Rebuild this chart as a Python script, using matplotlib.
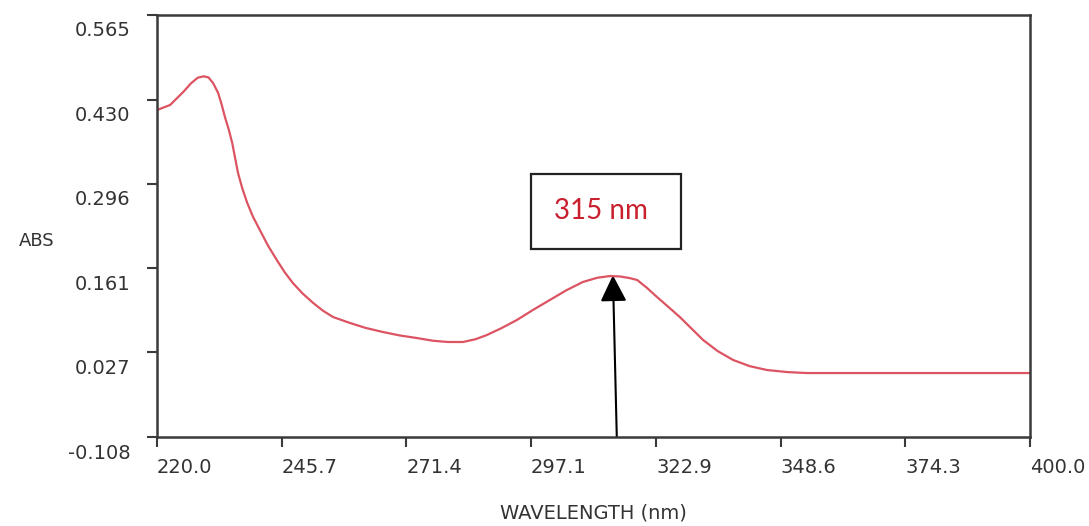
"""UV-Vis absorbance spectrum with the 315 nm band marked."""

import matplotlib

matplotlib.use("Agg")
import matplotlib.pyplot as plt
from matplotlib.patches import FancyArrowPatch, Rectangle
from matplotlib.transforms import ScaledTranslation

# spectrum
wavelength = [220.0, 222.7, 225.4, 227.0, 228.4, 229.6, 230.6, 231.6, 232.6,
              233.3, 234.0, 234.8, 235.5, 236.1, 236.7, 237.6, 238.6, 239.8,
              241.2, 242.9, 244.7, 246.3, 248.0, 250.0, 252.2, 254.2, 256.3,
              259.8, 263.0, 266.6, 270.0, 273.6, 276.9, 280.0, 283.1, 285.7,
              288.0, 291.0, 294.2, 297.6, 301.0, 304.4, 307.8, 310.8, 313.4,
              315.5, 317.4, 319.0, 321.0, 323.1, 325.5, 327.8, 330.2, 332.6,
              335.6, 338.8, 342.2, 345.8, 350.0, 354.0, 400.0]
absorbance = [0.4135, 0.4215, 0.4422, 0.4560, 0.4650, 0.4672, 0.4655, 0.4560,
              0.4406, 0.4230, 0.4023, 0.3820, 0.3609, 0.3370, 0.3130, 0.2880,
              0.2652, 0.2430, 0.2221, 0.1970, 0.1742, 0.1550, 0.1376, 0.1210,
              0.1057, 0.0935, 0.0833, 0.0738, 0.0660, 0.0594, 0.0540, 0.0498,
              0.0455, 0.0435, 0.0435, 0.0480, 0.0546, 0.0655, 0.0786, 0.0950,
              0.1105, 0.1260, 0.1392, 0.1460, 0.1487, 0.1480, 0.1455, 0.1424,
              0.1300, 0.1152, 0.0990, 0.0833, 0.0650, 0.0467, 0.0290, 0.0148,
              0.0050, -0.0012, -0.0045, -0.0060, -0.0060]

x_ticks = [220.0, 245.7, 271.4, 297.1, 322.9, 348.6, 374.3, 400.0]
y_ticks = [-0.108, 0.027, 0.161, 0.296, 0.430, 0.565]

peak_label = "315 nm"
peak_wl = 315.0
peak_abs = 0.150

TEXT = "#333333"
SPINE = "#3a3a3a"

fig = plt.figure(figsize=(10.89, 5.26), dpi=100)
ax = fig.add_axes([0.1442, 0.1692, 0.8016, 0.8023])

ax.plot(wavelength, absorbance, color="#dc5462", lw=1.6)

ax.set_xlim(220.0, 400.0)
ax.set_ylim(-0.108, 0.565)
ax.set_xticks(x_ticks)
ax.set_xticklabels([f"{v:.1f}" for v in x_ticks])
ax.set_yticks(y_ticks)
ax.set_yticklabels([f"{v:.3f}" for v in y_ticks])

for side in ax.spines.values():
    side.set_color(SPINE)
    side.set_linewidth(1.8)
ax.tick_params(axis="both", direction="out", length=7, width=1.5,
               color=SPINE, labelcolor=TEXT, labelsize=14)
ax.tick_params(axis="x", pad=8)
ax.tick_params(axis="y", pad=12)

# labels sit beside their ticks, as in the original software output
for lab in ax.get_xticklabels():
    lab.set_ha("left")
shift = ScaledTranslation(0, -14 / 100, fig.dpi_scale_trans)
for lab in ax.get_yticklabels():
    lab.set_transform(lab.get_transform() + shift)

fig.text(0.034, 0.542, "ABS", fontsize=13, color=TEXT, ha="center", va="center")
fig.text(0.5445, 0.0247, "WAVELENGTH (nm)", fontsize=14, color=TEXT,
         ha="center", va="center")

# peak marker: arrow from the axis up to the band maximum
arrow = FancyArrowPatch((peak_wl - 0.2, -0.108), (peak_wl - 1.0, peak_abs),
                        arrowstyle="-|>,head_length=0.9,head_width=0.45",
                        mutation_scale=18, color="black", lw=1.5,
                        shrinkA=0, shrinkB=0)
ax.add_patch(arrow)

box = Rectangle((0.4284, 0.4464), 0.1718, 0.1777, transform=ax.transAxes,
                fill=False, edgecolor="#222222", lw=1.6)
ax.add_patch(box)
ax.text(0.4284 + 0.1718 / 2 - 0.006, 0.4464 + 0.1777 / 2, peak_label,
        transform=ax.transAxes, fontsize=20, color="#c8202e",
        family="Lato", ha="center", va="center")

fig.savefig("out.png", dpi=100)
